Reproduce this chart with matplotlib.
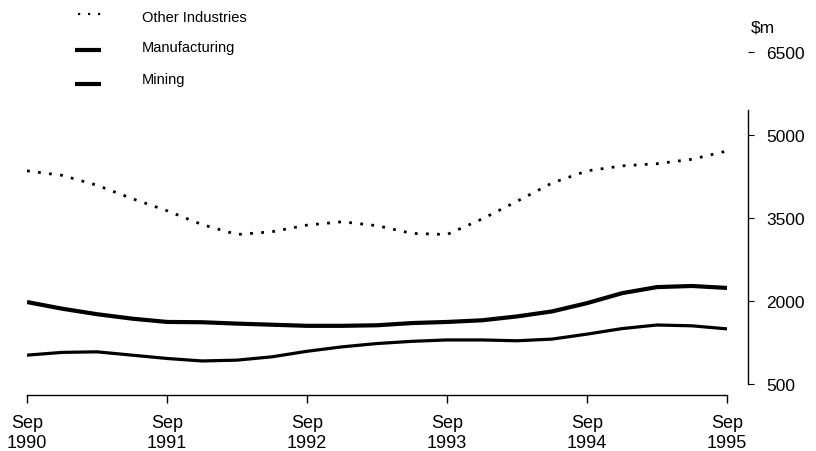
import numpy as np
import matplotlib.pyplot as plt
from matplotlib.lines import Line2D

plt.rcParams["font.family"] = ["Liberation Sans", "DejaVu Sans"]

# quarterly values, Sep 1990 .. Sep 1995 ($m)
other_industries = [4350, 4270, 4090, 3850, 3630, 3380, 3200, 3250, 3370, 3430, 3360,
                    3220, 3200, 3480, 3800, 4130, 4350, 4440, 4480, 4560, 4710]
manufacturing = [1980, 1860, 1760, 1680, 1620, 1615, 1590, 1570, 1550, 1550, 1560,
                 1600, 1620, 1650, 1720, 1810, 1960, 2140, 2250, 2270, 2235]
mining = [1020, 1070, 1080, 1020, 960, 915, 930, 990, 1090, 1170, 1230,
          1270, 1295, 1295, 1280, 1310, 1400, 1500, 1565, 1550, 1495]

series_names = ["Other Industries", "Manufacturing", "Mining"]
tick_labels = ["Sep\n1990", "Sep\n1991", "Sep\n1992", "Sep\n1993", "Sep\n1994", "Sep\n1995"]
y_ticks = [500, 2000, 3500, 5000, 6500]

x = np.arange(len(other_industries))
W, H = 816, 452

fig = plt.figure(figsize=(8.16, 4.52), dpi=100)
ax = fig.add_axes([27 / W, 56 / H, (748 - 27) / W, (396 - 44.6) / H])

dotted = (0, (1, 3))
styles = [dict(lw=2, linestyle=dotted),
          dict(lw=3, solid_capstyle="butt"),
          dict(lw=2.3, solid_capstyle="butt")]
for vals, st in zip([other_industries, manufacturing, mining], styles):
    ax.plot(x, vals, color="black", **st)

ax.set_xlim(0, 20.6)
ax.set_ylim(300, 6650)

ax.spines["left"].set_visible(False)
ax.spines["top"].set_visible(False)
ax.spines["right"].set_bounds(500, 5450)
ax.spines["bottom"].set_bounds(0, 20)
ax.spines["right"].set_linewidth(1)
ax.spines["bottom"].set_linewidth(1)

ax.set_xticks(x[::4])
ax.set_xticklabels(tick_labels, fontsize=13, linespacing=1.28)
ax.tick_params(axis="x", direction="out", length=6, width=1, pad=7.5)

ax.yaxis.tick_right()
ax.set_yticks(y_ticks)
ax.set_yticklabels([str(v) for v in y_ticks], fontsize=12.5)
ax.tick_params(axis="y", direction="out", length=4, width=0.8, pad=9)

fig.text(751 / W, 1 - 28 / H, "$m", fontsize=12.5, va="center", ha="left")

# legend drawn by hand, top left
legend_rows = [18, 48, 80]
handle_rows = [15, 51, 85]
handle_styles = [dict(lw=1.6, linestyle=(0, (1, 3.5)), x0=78),
                 dict(lw=3, x0=75),
                 dict(lw=3, x0=75)]
for name, ty, hy, hs in zip(series_names, legend_rows, handle_rows, handle_styles):
    fig.add_artist(Line2D([hs["x0"] / W, 101 / W], [1 - hy / H, 1 - hy / H],
                          transform=fig.transFigure, color="black", lw=hs["lw"],
                          linestyle=hs.get("linestyle", "-"), solid_capstyle="butt"))
    fig.text(142 / W, 1 - ty / H, name, fontsize=10.5, va="center", ha="left")

fig.savefig("out.png", dpi=100)
